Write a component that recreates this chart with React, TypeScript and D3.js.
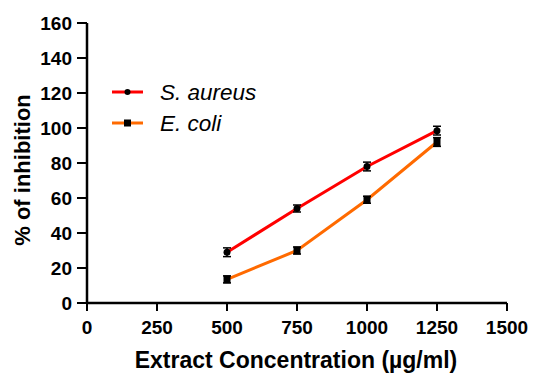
import React from "react";
import * as d3 from "d3";

const concentrations = [500, 750, 1000, 1250];
const aureusValues = [29, 54, 78, 98.5];
const aureusErrors = [2.5, 2, 2.5, 2.5];
const ecoliValues = [13.5, 30, 59, 92];
const ecoliErrors = [2, 2, 2, 2.5];
const xTicks = [0, 250, 500, 750, 1000, 1250, 1500];
const yTicks = [0, 20, 40, 60, 80, 100, 120, 140, 160];

export default function App() {
  const W = 534, H = 375;
  const x = d3.scaleLinear().domain([0, 1500]).range([87, 507]);
  const y = d3.scaleLinear().domain([0, 160]).range([303, 23]);
  const line = d3.line<number>().x((_, i) => x(concentrations[i])).y((d) => y(d));
  const font = "Arial, 'Liberation Sans', sans-serif";
  const series = [
    { name: "S. aureus", vals: aureusValues, errs: aureusErrors, color: "#ff0000", marker: "circle" },
    { name: "E. coli", vals: ecoliValues, errs: ecoliErrors, color: "#ff6a00", marker: "square" },
  ];
  return (
    <svg width={W} height={H} style={{ position: "absolute", left: 0, top: 0 }} fontFamily={font}>
      <rect width={W} height={H} fill="white" />
      <line x1={x(0)} x2={x(0)} y1={y(160)} y2={y(0) + 1} stroke="black" strokeWidth={2.5} />
      <line x1={x(0) - 1} x2={x(1500)} y1={y(0)} y2={y(0)} stroke="black" strokeWidth={2.5} />
      {yTicks.map((t) => (
        <g key={"y" + t}>
          <line x1={x(0) - 10} x2={x(0)} y1={y(t)} y2={y(t)} stroke="black" strokeWidth={2} />
          <text x={x(0) - 15} y={y(t)} dy="0.36em" textAnchor="end" fontSize={19} fontWeight="bold">{t}</text>
        </g>
      ))}
      {xTicks.map((t) => (
        <g key={"x" + t}>
          <line x1={x(t)} x2={x(t)} y1={y(0)} y2={y(0) + 8} stroke="black" strokeWidth={2} />
          <text x={x(t)} y={y(0) + 31} textAnchor="middle" fontSize={19} fontWeight="bold">{t}</text>
        </g>
      ))}
      <text x={296} y={368} textAnchor="middle" fontSize={23} fontWeight="bold">Extract Concentration (µg/ml)</text>
      <text transform={`translate(30,170) rotate(-90)`} textAnchor="middle" fontSize={22} fontWeight="bold">% of inhibition</text>
      {series.map((s) => (
        <g key={s.name}>
          <path d={line(s.vals) || ""} fill="none" stroke={s.color} strokeWidth={3} />
          {s.vals.map((v, i) => {
            const cx = x(concentrations[i]);
            return (
              <g key={i}>
                <line x1={cx} x2={cx} y1={y(v + s.errs[i])} y2={y(v - s.errs[i])} stroke="black" strokeWidth={1.5} />
                <line x1={cx - 4} x2={cx + 4} y1={y(v + s.errs[i])} y2={y(v + s.errs[i])} stroke="black" strokeWidth={1.5} />
                <line x1={cx - 4} x2={cx + 4} y1={y(v - s.errs[i])} y2={y(v - s.errs[i])} stroke="black" strokeWidth={1.5} />
                {s.marker === "circle" ? (
                  <circle cx={cx} cy={y(v)} r={3.5} fill="black" />
                ) : (
                  <rect x={cx - 3.5} y={y(v) - 4} width={7} height={8} fill="black" />
                )}
              </g>
            );
          })}
        </g>
      ))}
      {series.map((s, i) => {
        const ly = 92 + i * 31;
        return (
          <g key={"leg" + s.name}>
            <line x1={112} x2={143} y1={ly} y2={ly} stroke={s.color} strokeWidth={3} />
            {s.marker === "circle" ? (
              <circle cx={127.5} cy={ly} r={3} fill="black" />
            ) : (
              <rect x={124} y={ly - 3.5} width={7} height={7} fill="black" />
            )}
            <text x={160} y={ly} dy="0.36em" fontSize={22.5} fontStyle="italic">{s.name}</text>
          </g>
        );
      })}
    </svg>
  );
}
